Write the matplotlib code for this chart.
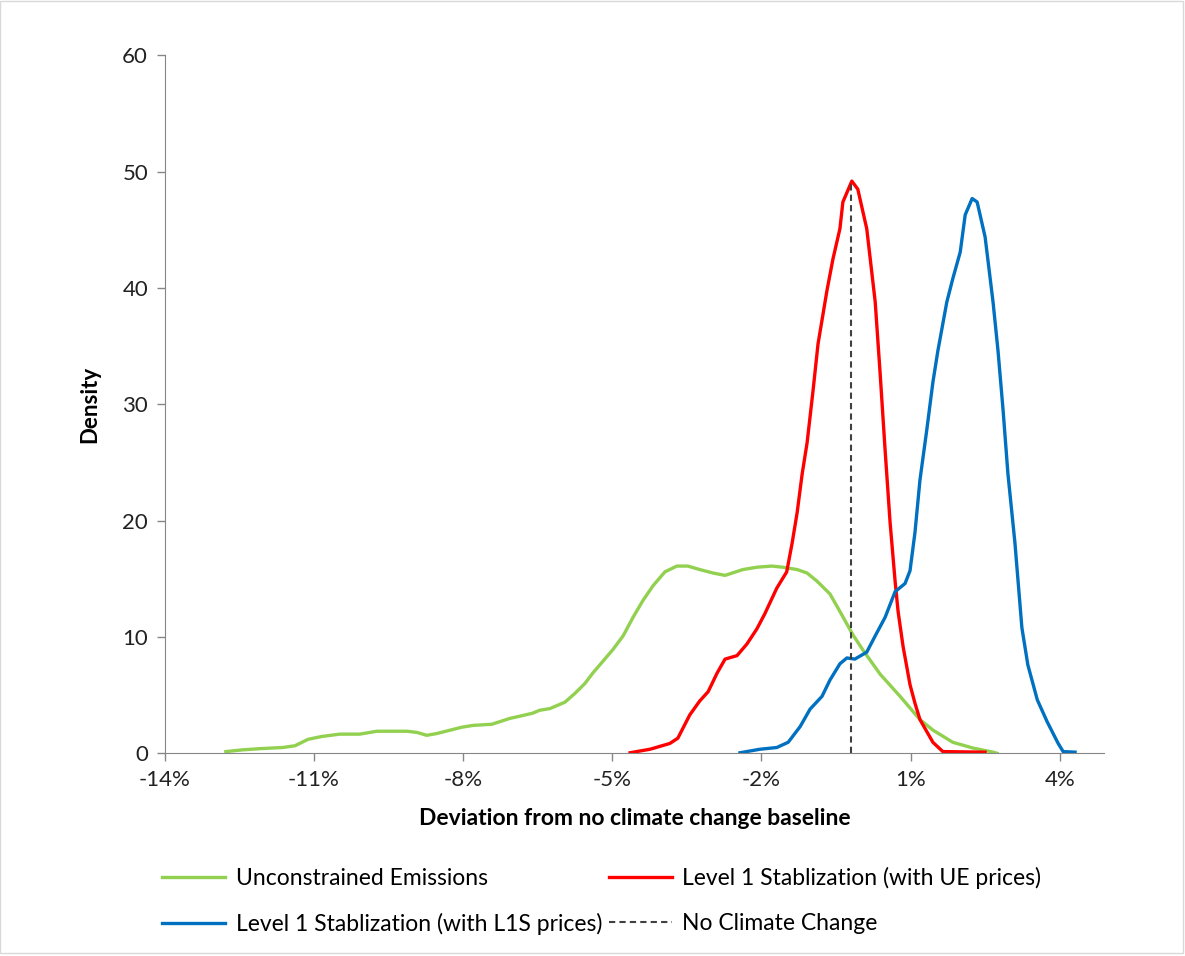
import numpy as np
import matplotlib
matplotlib.use("Agg")
import matplotlib.pyplot as plt

plt.rcParams['font.family'] = ['Lato', 'DejaVu Sans']

### data (x in %, y = density) ###
green_x = [-12.57, -12.23, -11.89, -11.43, -11.18, -10.92, -10.64, -10.28, -9.88, -9.53,
           -8.93, -8.73, -8.53, -8.33, -7.82, -7.60, -7.22, -6.86, -6.60, -6.40,
           -6.26, -6.05, -5.75, -5.55, -5.35, -5.19, -5.05, -4.79, -4.58, -4.38,
           -4.18, -3.98, -3.74, -3.50, -3.28, -3.04, -2.77, -2.53, -2.17, -1.89,
           -1.59, -1.37, -1.08, -0.88, -0.68, -0.42, -0.22, 0.04, 0.24, 0.59,
           0.99, 1.39, 1.65, 2.05, 2.46, 2.86, 2.94]
green_y = [0.15, 0.3, 0.4, 0.5, 0.65, 1.2, 1.45, 1.65, 1.65, 1.9,
           1.9, 1.8, 1.55, 1.7, 2.25, 2.4, 2.5, 3.0, 3.25, 3.45,
           3.7, 3.85, 4.4, 5.15, 6.0, 6.9, 7.6, 8.9, 10.1, 11.7,
           13.15, 14.4, 15.6, 16.1, 16.1, 15.8, 15.5, 15.3, 15.8, 16.0,
           16.1, 16.0, 15.8, 15.5, 14.8, 13.7, 12.2, 10.2, 8.9, 6.8,
           4.9, 2.9, 2.0, 0.95, 0.45, 0.1, 0.0]

red_x = [-4.44, -4.04, -3.64, -3.48, -3.24, -3.04, -2.87, -2.69, -2.53, -2.29,
         -2.09, -1.89, -1.73, -1.49, -1.29, -1.18, -1.08, -0.98, -0.88, -0.76,
         -0.66, -0.48, -0.36, -0.22, -0.16, 0.02, 0.14, 0.32, 0.49, 0.59,
         0.69, 0.79, 0.89, 0.95, 1.05, 1.19, 1.29, 1.39, 1.65, 1.85, 2.70]
red_y = [0.05, 0.35, 0.85, 1.3, 3.3, 4.5, 5.3, 6.9, 8.1, 8.4,
         9.4, 10.7, 12.0, 14.2, 15.6, 18.1, 20.7, 24.0, 26.7, 31.2,
         35.2, 39.8, 42.5, 45.1, 47.4, 49.2, 48.5, 45.1, 38.8, 32.6,
         26.0, 19.8, 14.8, 12.2, 9.2, 5.9, 4.3, 2.9, 0.95, 0.15, 0.1]

blue_x = [-2.23, -1.83, -1.49, -1.26, -1.02, -0.82, -0.58, -0.42, -0.22, -0.08,
          0.08, 0.32, 0.49, 0.69, 0.89, 1.09, 1.19, 1.29, 1.39, 1.53,
          1.65, 1.75, 1.93, 2.05, 2.20, 2.30, 2.44, 2.54, 2.70, 2.86,
          2.96, 3.06, 3.16, 3.30, 3.44, 3.56, 3.75, 3.95, 4.17, 4.27, 4.51]
blue_y = [0.05, 0.35, 0.5, 0.95, 2.3, 3.8, 4.9, 6.3, 7.7, 8.2,
          8.1, 8.7, 10.1, 11.7, 13.9, 14.6, 15.7, 19.0, 23.5, 27.9,
          31.9, 34.6, 38.8, 40.8, 43.1, 46.3, 47.7, 47.4, 44.4, 38.8,
          34.6, 29.6, 24.0, 18.1, 10.8, 7.6, 4.6, 2.7, 0.85, 0.15, 0.1]

nocc_x = [0.0, 0.0]
nocc_y = [0.0, 49.2]

labels = ["Unconstrained Emissions", "Level 1 Stablization (with UE prices)",
          "Level 1 Stablization (with L1S prices)", "No Climate Change"]

### plot ###
fig = plt.figure(figsize=(11.85, 9.56), dpi=100)
ax = fig.add_axes([0.139, 0.212, 0.793, 0.730])

l_g, = ax.plot(green_x, green_y, color='#92D050', lw=2.4, label=labels[0])
l_r, = ax.plot(red_x, red_y, color='#FF0000', lw=2.4, label=labels[1])
l_b, = ax.plot(blue_x, blue_y, color='#0070C0', lw=2.4, label=labels[2])
l_d, = ax.plot(nocc_x, nocc_y, color='#404040', lw=1.5, ls=(0, (3, 2)), label=labels[3])

ax.set_xlim(-13.8, 5.1)
ax.set_ylim(0, 60)
xt = np.arange(-13.8, 5.0, 3.0)
ax.set_xticks(xt)
ax.set_xticklabels(["%d%%" % round(v) for v in xt])
ax.set_yticks(np.arange(0, 61, 10))

for s in ['top', 'right']:
    ax.spines[s].set_visible(False)
for s in ['left', 'bottom']:
    ax.spines[s].set_color('#868686')
ax.tick_params(axis='both', colors='#868686', length=6, width=1, labelsize=16,
               labelcolor='#222222', pad=6)

ax.set_xlabel("Deviation from no climate change baseline", fontsize=16.5, fontweight='bold', labelpad=13)
ax.set_ylabel("Density", fontsize=16, fontweight='bold', labelpad=16)

fig.legend(handles=[l_g, l_b, l_r, l_d], ncol=2, loc='upper left',
           bbox_to_anchor=(0.137, 0.093), borderaxespad=0, borderpad=0,
           frameon=False, fontsize=16.5,
           handlelength=2.75, columnspacing=0.3, handletextpad=0.45, labelspacing=1.05)

# light chart border
fig.patches.append(plt.Rectangle((0.0, 0.003), 0.998, 0.996, transform=fig.transFigure,
                                 fill=False, edgecolor='#D9D9D9', lw=1))

fig.savefig("out.png", dpi=100)
